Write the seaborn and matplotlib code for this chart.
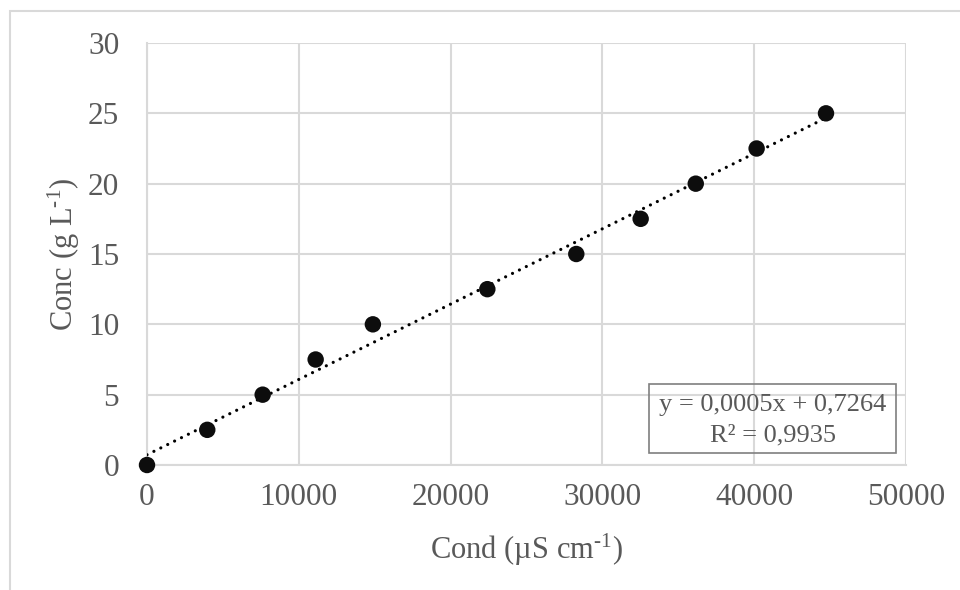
import numpy as np
import pandas as pd
import matplotlib
matplotlib.use("Agg")
import matplotlib.pyplot as plt
from matplotlib.patches import Rectangle
import seaborn as sns

# Calibration data: conductivity vs. concentration
cond = [0, 3970, 7620, 11110, 14880, 22420, 28280, 32520, 36150, 40160, 44730]
conc = [0, 2.5, 5, 7.5, 10, 12.5, 15, 17.5, 20, 22.5, 25]
x_ticks = [0, 10000, 20000, 30000, 40000, 50000]
y_ticks = [0, 5, 10, 15, 20, 25, 30]
equation = "y = 0,0005x + 0,7264"
r_squared = "R² = 0,9935"

df = pd.DataFrame({"cond": cond, "conc": conc})

sns.set_theme(style="white")
plt.rcParams["font.family"] = ["Liberation Serif", "DejaVu Serif"]
plt.rcParams["mathtext.fontset"] = "custom"
plt.rcParams["mathtext.rm"] = "Liberation Serif"
plt.rcParams["mathtext.it"] = "Liberation Serif"

text_col = "#595959"
grid_col = "#d9d9d9"

fig = plt.figure(figsize=(9.6, 5.9), dpi=100)
W, H = 960, 590
ax = fig.add_axes([147 / W, 1 - 465 / H, (906 - 147) / W, (465 - 43) / H])

# chart-area frame (left and top edges)
fig.add_artist(Rectangle((10 / W, -0.2), 2.0, 1.2 - 11 / H, transform=fig.transFigure,
                         facecolor="none", edgecolor=grid_col, linewidth=1.5))

# linear trendline over the data range
sns.regplot(data=df, x="cond", y="conc", scatter=False, ci=None, ax=ax,
            line_kws=dict(color="black", linewidth=2.3, linestyle=(0, (0.01, 2.4)),
                          dash_capstyle="round", zorder=3))
sns.scatterplot(data=df, x="cond", y="conc", ax=ax, color="#0d0d0d", s=140,
                edgecolor="none", zorder=4, clip_on=False)

ax.set_xlim(0, 50000)
ax.set_ylim(0, 30)
ax.set_xticks(x_ticks)
ax.set_yticks(y_ticks)
ax.grid(True, color=grid_col, linewidth=1.5)
ax.set_axisbelow(True)
for side in ["top", "right"]:
    ax.spines[side].set_visible(False)
for side in ["left", "bottom"]:
    ax.spines[side].set_color(grid_col)
    ax.spines[side].set_linewidth(1.5)
ax.tick_params(axis="both", length=0, labelsize=22.5, labelcolor=text_col)
ax.tick_params(axis="x", pad=13)
ax.tick_params(axis="y", pad=20)

ax.set_xlabel(r"Cond (µS cm$^{\text{-}1}$)", fontsize=22, color=text_col, labelpad=14)
ax.set_ylabel(r"Conc (g L$^{\text{-}1}$)", fontsize=22, color=text_col, labelpad=4)

# regression equation box
ax.add_patch(Rectangle(((649 - 147) / 759, (465 - 453) / 422), 247 / 759, 69 / 422,
                       transform=ax.transAxes, facecolor="none", edgecolor="#7f7f7f",
                       linewidth=1.2, zorder=5))
cx = (772.5 - 147) / 759
ax.text(cx, (465 - 405) / 422, equation, transform=ax.transAxes, ha="center",
        va="center", fontsize=19, color=text_col, zorder=6)
ax.text(cx, (465 - 435) / 422, r_squared, transform=ax.transAxes, ha="center",
        va="center", fontsize=19, color=text_col, zorder=6)

fig.savefig("out.png", dpi=100)
